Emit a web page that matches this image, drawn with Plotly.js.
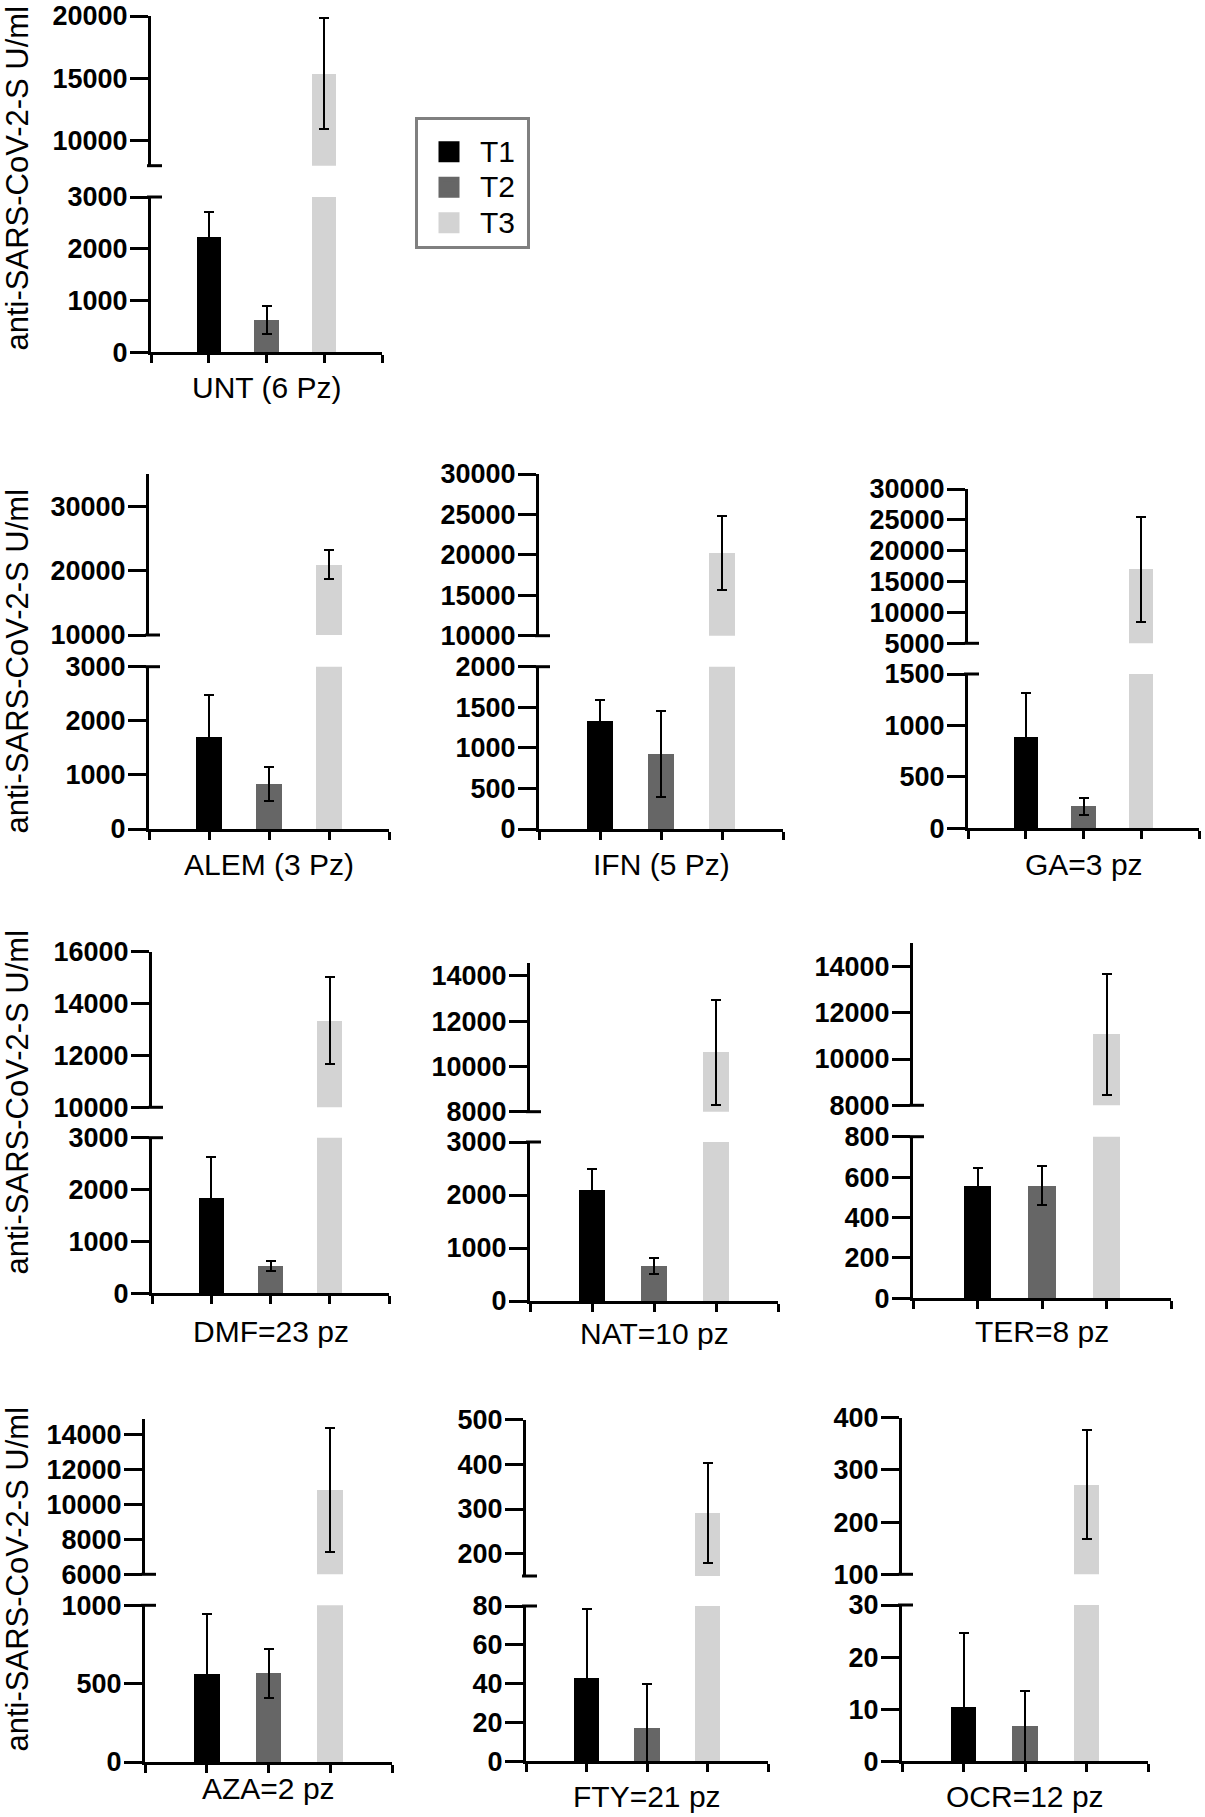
<!DOCTYPE html>
<html>
<head>
<meta charset="utf-8">
<script src="https://cdn.plot.ly/plotly-3.0.1.min.js"></script>
<style>
html,body{margin:0;padding:0;background:#fff;}
#chart{width:1205px;height:1817px;}
</style>
</head>
<body>
<div id="chart"></div>
<script>
// ---------------- data ----------------
const categories = ['UNT (6 Pz)', 'ALEM (3 Pz)', 'IFN (5 Pz)', 'GA=3 pz', 'DMF=23 pz',
                    'NAT=10 pz', 'TER=8 pz', 'AZA=2 pz', 'FTY=21 pz', 'OCR=12 pz'];
const seriesNames = ['T1', 'T2', 'T3'];
const t1Mean = [2220, 1700, 1335, 885, 1850, 2095, 556, 557, 43.1, 10.4];
const t1SD   = [490, 780, 260, 435, 770, 390, 90, 390, 35.6, 14.2];
const t2Mean = [630, 837, 928, 213, 529, 657, 559, 565, 17.2, 6.7];
const t2SD   = [272, 315, 529, 84, 93, 145, 96, 155, 22.8, 6.85];
const t3Mean = [15385, 20920, 20225, 16970, 13346, 10620, 11070, 10830, 292, 272];
const t3SD   = [4465, 2280, 4605, 8470, 1693, 2310, 2610, 3530, 112, 104];
const yTitle = 'anti-SARS-CoV-2-S U/ml';

// broken-axis segments: upper and lower y ranges and tick values
const upperRanges = [[8000,20000],[10000,35000],[10000,30000],[5000,30000],[10000,16000],
                     [8000,14560],[8000,15000],[6000,14900],[150,500],[100,400]];
const upperTicks = [[10000,15000,20000],[10000,20000,30000],[10000,15000,20000,25000,30000],
                    [5000,10000,15000,20000,25000,30000],[10000,12000,14000,16000],
                    [8000,10000,12000,14000],[8000,10000,12000,14000],
                    [6000,8000,10000,12000,14000],[200,300,400,500],[100,200,300,400]];
const lowerRanges = [[0,3000],[0,3000],[0,2000],[0,1500],[0,3000],[0,3000],[0,800],[0,1000],[0,80],[0,30]];
const lowerTicks = [[0,1000,2000,3000],[0,1000,2000,3000],[0,500,1000,1500,2000],[0,500,1000,1500],
                    [0,1000,2000,3000],[0,1000,2000,3000],[0,200,400,600,800],[0,500,1000],
                    [0,20,40,60,80],[0,10,20,30]];

// ---------------- layout geometry (pixels) ----------------
const W = 1205, H = 1817;
const seriesColors = ['#000000', '#666666', '#d3d3d3'];
// [xLeft, xRight, upperTop, upperBottom, lowerTop, lowerBottom, labelY]
const geom = [
  [151, 382, 16, 165.7, 197, 352.3, 388],
  [149, 389, 474, 635, 666.7, 829, 864],
  [539, 783, 474, 635.7, 666.7, 829, 864],
  [968, 1199, 489, 643.3, 674, 828.3, 864],
  [152, 389, 951.7, 1107.3, 1137.7, 1293.3, 1331],
  [530, 778, 963.3, 1111.7, 1142, 1301, 1333],
  [913, 1171, 943.3, 1105.3, 1136.7, 1298.3, 1331],
  [145, 392, 1418.7, 1574.3, 1605.3, 1762, 1788],
  [526, 768, 1419.7, 1576, 1606, 1761.3, 1796],
  [902, 1148, 1417.7, 1574.3, 1605, 1761.3, 1796]
];
const rowTitles = [[16.5, 178], [16.5, 661], [16.5, 1102], [16.5, 1579]];

const FONT = 'Arial, "Liberation Sans", Helvetica, sans-serif';
const px = v => v / W;
const py = v => 1 - v / H;
const xPos = seriesNames.map((_, i) => i + 1);

const traces = [];
const layout = {
  width: W, height: H,
  margin: {l: 0, r: 0, t: 0, b: 0},
  paper_bgcolor: '#ffffff', plot_bgcolor: 'rgba(0,0,0,0)',
  showlegend: true,
  font: {family: FONT, color: '#000000'},
  bargap: 0,
  legend: {
    x: px(415), y: py(117), xanchor: 'left', yanchor: 'top',
    bgcolor: '#ffffff', bordercolor: '#808080', borderwidth: 3,
    font: {family: FONT, size: 25, color: '#000000'},
    title: {text: '\u00a0', font: {family: FONT, size: 7}},
    itemwidth: 52, itemsizing: 'trace', tracegroupgap: 0
  },
  annotations: [], shapes: []
};

const yAxisCommon = {
  showline: true, linewidth: 3, linecolor: '#000000',
  ticks: 'outside', ticklen: 18, tickwidth: 3, tickcolor: '#000000',
  showgrid: false, zeroline: false, tickformat: 'd',
  ticklabeloverflow: 'allow', ticklabelstandoff: -3,
  tickfont: {family: FONT, size: 27, weight: 'bold', color: '#000000'},
  fixedrange: true
};

categories.forEach((cat, i) => {
  const g = geom[i];
  const xid = 'x' + (i + 1), xkey = 'xaxis' + (i + 1);
  const ylo = 2 * i + 1, yup = 2 * i + 2;
  layout[xkey] = {
    domain: [px(g[0]), px(g[1])], range: [0, seriesNames.length + 1],
    anchor: 'y' + ylo, showline: true, linewidth: 3, linecolor: '#000000',
    ticks: 'outside', ticklen: 8, tickwidth: 3, tickcolor: '#000000',
    tickmode: 'array', tickvals: [0].concat(xPos, [seriesNames.length + 1]),
    showticklabels: false, showgrid: false, zeroline: false, fixedrange: true
  };
  layout['yaxis' + ylo] = Object.assign({}, yAxisCommon, {
    domain: [py(g[5]), py(g[4])], range: lowerRanges[i], anchor: xid,
    tickmode: 'array', tickvals: lowerTicks[i]
  });
  layout['yaxis' + yup] = Object.assign({}, yAxisCommon, {
    domain: [py(g[3]), py(g[2])], range: upperRanges[i], anchor: xid,
    tickmode: 'array', tickvals: upperTicks[i]
  });
  const means = [t1Mean[i], t2Mean[i], t3Mean[i]];
  const sds = [t1SD[i], t2SD[i], t3SD[i]];
  [ylo, yup].forEach(yn => {
    traces.push({
      type: 'bar', x: xPos, y: means, width: 0.42,
      marker: {color: seriesColors, line: {width: 0}},
      error_y: {type: 'data', array: sds, visible: true, color: '#000000', thickness: 2, width: 5},
      xaxis: xid, yaxis: 'y' + yn, showlegend: false,
      text: seriesNames, hovertemplate: cat + ' %{text}: %{y}<extra></extra>', textposition: 'none'
    });
  });
  // break marks
  [g[3], g[4]].forEach(yy => {
    layout.shapes.push({type: 'line', xref: 'paper', yref: 'paper',
      x0: px(g[0] - 4), x1: px(g[0] + 11), y0: py(yy), y1: py(yy),
      line: {color: '#000000', width: 3}});
  });
  // category label
  layout.annotations.push({
    xref: xid, yref: 'paper', x: (seriesNames.length + 1) / 2, y: py(g[6]),
    xanchor: 'center', yanchor: 'middle', showarrow: false, text: cat,
    font: {family: FONT, size: 30, color: '#000000'}
  });
});

rowTitles.forEach(r => {
  layout.annotations.push({
    xref: 'paper', yref: 'paper', x: px(r[0]), y: py(r[1]),
    xanchor: 'center', yanchor: 'middle', showarrow: false, textangle: -90,
    text: yTitle, font: {family: FONT, size: 31, color: '#000000'}
  });
});

// legend entries (text enlarged via span; line spacing follows legend.font.size)
seriesNames.forEach((s, k) => {
  traces.push({
    type: 'scatter', mode: 'markers', x: [null], y: [null],
    name: '<span style="font-size:30px">' + s + '</span>\u00a0',
    marker: {symbol: 'square', size: 16, color: seriesColors[k], line: {color: seriesColors[k], width: 5}},
    xaxis: 'x1', yaxis: 'y1', showlegend: true, hoverinfo: 'skip'
  });
});

Plotly.newPlot('chart', traces, layout, {displayModeBar: false, responsive: false});
</script>
</body>
</html>
